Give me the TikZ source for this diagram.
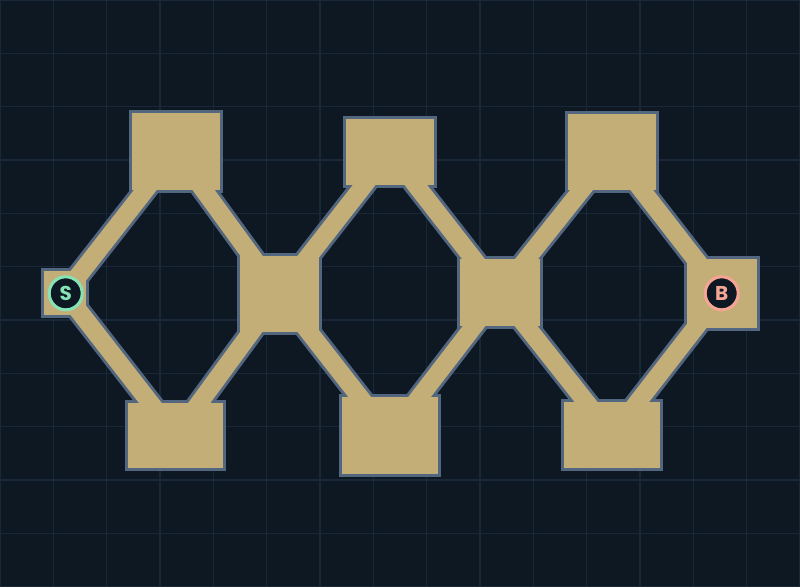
\documentclass[tikz,border=0pt]{standalone}
\usepackage{fontspec}
\newfontfamily\lblfont{Poppins}[UprightFont=* Bold, BoldFont=* Bold]
\definecolor{bg}{HTML}{0D1823}
\definecolor{gridc}{HTML}{182838}
\definecolor{tan}{HTML}{C4AE78}
\definecolor{edge}{HTML}{536680}
\definecolor{mint}{HTML}{86E3B5}
\definecolor{salmon}{HTML}{F5A594}
\tikzset{
  room/.style={draw=edge, fill=tan, line width=3pt, rectangle, inner sep=0pt, outer sep=0pt},
  corridorout/.style={draw=edge, line width=24pt},
  corridorin/.style={draw=tan, line width=18pt},
  marker/.style={circle, draw=#1, fill=bg, line width=3pt, minimum size=33pt, inner sep=0pt,
    text=#1, font=\lblfont\fontsize{20pt}{20pt}\selectfont}
}
\begin{document}
\begin{tikzpicture}[x=1pt,y=-1pt]
\fill[bg] (0,0) rectangle (800,587);
\useasboundingbox (0,0) rectangle (800,587);
\foreach \i in {0,...,15} { \draw[gridc, line width=1.5pt] ({\i*800/15},0) -- ({\i*800/15},587); }
\foreach \j in {0,...,11} { \draw[gridc, line width=1.5pt] (0,{\j*800/15}) -- (800,{\j*800/15}); }
% room anchors (centers)
\coordinate (cS) at (64.85,293);
\coordinate (cTL) at (175.5,151.35);
\coordinate (cBL) at (175.5,435.35);
\coordinate (cHL) at (279.2,293.85);
\coordinate (cTM) at (390,151.85);
\coordinate (cBM) at (389.85,435.65);
\coordinate (cHR) at (499.7,292.65);
\coordinate (cTR) at (612,151.7);
\coordinate (cBR) at (612.15,435);
\coordinate (cB) at (722,293.35);
% corridor outlines
\foreach \a/\b in {S/TL,S/BL,TL/HL,BL/HL,HL/TM,HL/BM,TM/HR,BM/HR,HR/TR,HR/BR,TR/B,BR/B}
  { \draw[corridorout] (c\a) -- (c\b); }
% rooms
\node[room, minimum width=45.3pt, minimum height=47pt] (S) at (cS) {};
\node[room, minimum width=91pt, minimum height=79.7pt] (TL) at (cTL) {};
\node[room, minimum width=98pt, minimum height=67.7pt] (BL) at (cBL) {};
\node[room, minimum width=82pt, minimum height=79.3pt] (HL) at (cHL) {};
\node[room, minimum width=91.6pt, minimum height=68.7pt] (TM) at (cTM) {};
\node[room, minimum width=98.7pt, minimum height=80.3pt] (BM) at (cBM) {};
\node[room, minimum width=83pt, minimum height=70.3pt] (HR) at (cHR) {};
\node[room, minimum width=91pt, minimum height=79pt] (TR) at (cTR) {};
\node[room, minimum width=99.3pt, minimum height=68.4pt] (BR) at (cBR) {};
\node[room, minimum width=73pt, minimum height=71.7pt] (B) at (cB) {};
% corridor fills
\foreach \a/\b in {S/TL,S/BL,TL/HL,BL/HL,HL/TM,HL/BM,TM/HR,BM/HR,HR/TR,HR/BR,TR/B,BR/B}
  { \draw[corridorin] (\a.center) -- (\b.center); }
% markers
\node[marker=mint] (mS) at (65.7,293.3) {S};
\node[marker=salmon] (mB) at (721.7,293.3) {B};
\end{tikzpicture}
\end{document}
